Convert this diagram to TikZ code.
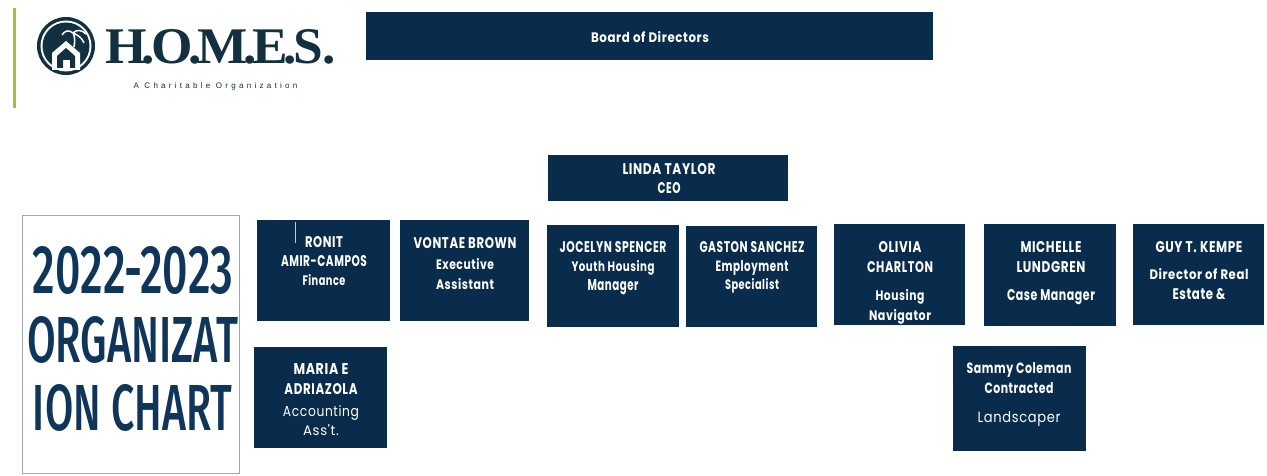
\documentclass[tikz,border=0pt]{standalone}
\usepackage{fontspec}
\usepackage{graphicx}
\setmainfont{Liberation Serif}
\setsansfont{Poppins}
\newfontfamily\titlefont{Fira Sans Medium}
\newfontfamily\tagfont[LetterSpace=41]{Liberation Sans}
\newfontfamily\boxfont[LetterSpace=4,FakeStretch=0.78]{Poppins}
\definecolor{navy}{HTML}{0A2C4C}
\definecolor{titleblue}{HTML}{10355A}
\definecolor{logoink}{HTML}{12303F}
\definecolor{leaf}{HTML}{A9BE35}
\tikzset{
  x=1pt,y=-1pt,
  card/.style={fill=navy,draw=none,inner sep=0,rectangle},
  bline/.style={text=white,inner sep=0,anchor=base,yshift=-5.5pt,font=\boxfont\bfseries\fontsize{13.5}{15}\selectfont},
  rline/.style={text=white,inner sep=0,anchor=base,yshift=-5.5pt,font=\boxfont\fontsize{14}{16}\selectfont},
  tline/.style={text=titleblue,inner sep=0},
}
\newcommand{\fw}[2]{\resizebox{#1pt}{11pt}{#2}}
\newcommand{\dt}{\kern-.09em.\kern-.07em}
\begin{document}
\begin{tikzpicture}
\useasboundingbox (0,0) rectangle (1267,476);
\fill[white] (0,0) rectangle (1267,476);
% logo
\draw[leaf,line width=2.2pt] (14.5,8) coordinate (barA) -- (14.5,108) coordinate (barB);
\fill[logoink] (66,46) circle (29);
\fill[white] (66,46) circle (25.5);
\fill[logoink] (66,46) circle (23.5);
\fill[white] (52,70) -- (52,53) -- (66,41) -- (80,53) -- (80,70) -- cycle;
\fill[logoink] (57,68) -- (57,56) -- (66,48) -- (75,56) -- (75,68) -- (70,68) -- (70,60) -- (63,60) -- (63,68) -- cycle;
\draw[white,line width=1.6pt] (74,47) .. controls (75,41) and (75,37) .. (73,32);
\draw[white,line width=1.5pt] (73,33) .. controls (68,29) and (65,31) .. (62,35);
\draw[white,line width=1.5pt] (73,33) .. controls (77,29) and (82,30) .. (86,34);
\draw[white,line width=1.5pt] (73,33) .. controls (78,35) and (82,38) .. (84,43);
\node[anchor=west,inner sep=0,text=logoink] (brand) at (105,47) {\resizebox{231pt}{34pt}{\bfseries H\dt O\dt M\dt E\dt S.}};
\node[inner sep=0,text=logoink,font=\tagfont\fontsize{8}{10}\selectfont] (tagline) at (215.5,86) {A Charitable Organization};
% title panel
\node[draw=black!35,line width=1pt,fill=white,minimum width=217pt,minimum height=258pt,inner sep=0] (panel) at (130.5,344) {};
\node[tline] (t1) at (133,271) {\resizebox{200pt}{47pt}{\titlefont 2022-2023}};
\node[tline] (t2) at (132.5,340) {\resizebox{211pt}{46pt}{\titlefont ORGANIZAT}};
\node[tline] (t3) at (132.5,408) {\resizebox{199pt}{46pt}{\titlefont ION CHART}};
% boxes
\node[card,minimum width=567pt,minimum height=48pt] (board) at (649.5,36) {};
\node[card,minimum width=240pt,minimum height=46pt] (linda) at (668,178) {};
\node[card,minimum width=133pt,minimum height=101pt] (ronit) at (323.5,270.5) {};
\node[card,minimum width=129pt,minimum height=101pt] (vontae) at (464.5,270.5) {};
\node[card,minimum width=132pt,minimum height=102pt] (jocelyn) at (613,276) {};
\node[card,minimum width=131pt,minimum height=101pt] (gaston) at (751.5,276.5) {};
\node[card,minimum width=131pt,minimum height=101pt] (olivia) at (899.5,274.5) {};
\node[card,minimum width=132pt,minimum height=102pt] (michelle) at (1050,275) {};
\node[card,minimum width=131pt,minimum height=101pt] (guy) at (1198.5,274.5) {};
\node[card,minimum width=133pt,minimum height=101pt] (maria) at (320.5,397.5) {};
\node[card,minimum width=133pt,minimum height=105pt] (sammy) at (1019.5,398.5) {};
\draw[white!75!navy,line width=1pt] (ronit.north west) ++(39,2) coordinate (tickA) -- ++(0,21) coordinate (tickB);
% texts
\node[bline] (a1) at (650,37) {\fw{118}{Board of Directors}};
\node[bline] (b1) at (669,169) {\fw{93}{LINDA TAYLOR}};
\node[bline] (b2) at (669,188) {\fw{23}{CEO}};
\node[bline] (c1) at (324,242) {\fw{38}{RONIT}};
\node[bline] (c2) at (324,261) {\fw{86}{AMIR-CAMPOS}};
\node[bline] (c3) at (324,280) {\fw{43}{Finance}};
\node[bline] (d1) at (465,243) {\fw{103}{VONTAE BROWN}};
\node[bline] (d2) at (465,264) {\fw{58}{Executive}};
\node[bline] (d3) at (465,284) {\fw{58}{Assistant}};
\node[bline] (e1) at (613,247) {\fw{107}{JOCELYN SPENCER}};
\node[bline] (e2) at (613,266) {\fw{83}{Youth Housing}};
\node[bline] (e3) at (613,285) {\fw{51}{Manager}};
\node[bline] (f1) at (752,247) {\fw{105}{GASTON SANCHEZ}};
\node[bline] (f2) at (752,266) {\fw{73}{Employment}};
\node[bline] (f3) at (752,284) {\fw{54}{Specialist}};
\node[bline] (g1) at (900,247) {\fw{43}{OLIVIA}};
\node[bline] (g2) at (900,267) {\fw{66}{CHARLTON}};
\node[bline] (g3) at (900,295) {\fw{49}{Housing}};
\node[bline] (g4) at (900,315) {\fw{62}{Navigator}};
\node[bline] (h1) at (1051,247) {\fw{61}{MICHELLE}};
\node[bline] (h2) at (1051,267) {\fw{69}{LUNDGREN}};
\node[bline] (h3) at (1051,295) {\fw{88}{Case Manager}};
\node[bline] (i1) at (1199,247) {\fw{87}{GUY T. KEMPE}};
\node[bline] (i2) at (1199,274) {\fw{99}{Director of Real}};
\node[bline] (i3) at (1199,294) {\fw{53}{Estate \&}};
\node[bline] (j1) at (321,369) {\fw{55}{MARIA E}};
\node[bline] (j2) at (321,389) {\fw{73}{ADRIAZOLA}};
\node[rline] (j3) at (321,411) {\fw{76}{Accounting}};
\node[rline] (j4) at (321,430) {\fw{36}{Ass't.}};
\node[bline] (k1) at (1019,368) {\fw{105}{Sammy Coleman}};
\node[bline] (k2) at (1019,388) {\fw{69}{Contracted}};
\node[rline] (k3) at (1019,417) {\fw{83}{Landscaper}};
\end{tikzpicture}
\end{document}
